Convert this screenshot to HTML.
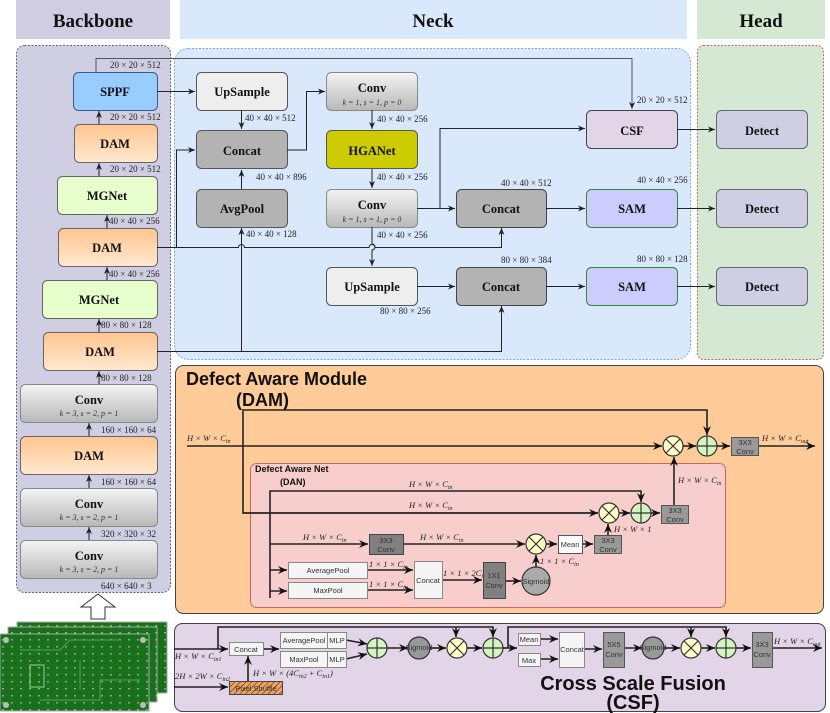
<!DOCTYPE html>
<html><head><meta charset="utf-8"><style>
html,body{margin:0;padding:0;background:#fff;}
svg{display:block;}
.b{font-family:"Liberation Serif",serif;font-weight:bold;font-size:12.5px;text-anchor:middle;fill:#111;}
.s{font-family:"Liberation Serif",serif;font-style:italic;font-size:8px;text-anchor:middle;fill:#333;}
.l{font-family:"Liberation Serif",serif;font-size:9px;fill:#222;}
.li{font-family:"Liberation Serif",serif;font-style:italic;font-size:8.5px;fill:#222;}
.h{font-family:"Liberation Serif",serif;font-weight:bold;font-size:19px;text-anchor:middle;fill:#111;}
.a{font-family:"Liberation Sans",sans-serif;font-size:7.5px;text-anchor:middle;fill:#333;}
.t{font-family:"Liberation Sans",sans-serif;font-weight:bold;fill:#111;}
line,polyline,path.w{stroke:#222;stroke-width:1;fill:none;}
.k line,.k polyline{stroke-width:1.6;}
</style></head><body>
<svg width="830" height="713" viewBox="0 0 830 713" xmlns="http://www.w3.org/2000/svg">
<defs>
<marker id="ar" markerWidth="8" markerHeight="8" refX="7" refY="4" orient="auto" markerUnits="userSpaceOnUse"><path d="M0,1 L7,4 L0,7 L2,4 z" fill="#222"/></marker>
<marker id="ab" markerWidth="10" markerHeight="10" refX="9" refY="5" orient="auto" markerUnits="userSpaceOnUse"><path d="M0,1 L9,5 L0,9 L3,5 z" fill="#111"/></marker>
<linearGradient id="og" x1="0" y1="0" x2="0" y2="1"><stop offset="0" stop-color="#ffc58f"/><stop offset="1" stop-color="#ffe8d0"/></linearGradient>
<linearGradient id="gg" x1="0" y1="0" x2="0" y2="1"><stop offset="0" stop-color="#f4f4f4"/><stop offset="1" stop-color="#b8b8b8"/></linearGradient>
<pattern id="hatch" width="4" height="4" patternUnits="userSpaceOnUse" patternTransform="rotate(45)"><rect width="4" height="4" fill="#f0a060"/><line x1="0" y1="0" x2="0" y2="4" stroke="#c8642a" stroke-width="1.5"/></pattern>
<pattern id="pcb" width="9" height="7" patternUnits="userSpaceOnUse"><rect width="9" height="7" fill="#1a701c"/><rect x="2" y="2" width="2" height="1.5" fill="#7fb07f"/><rect x="6" y="5" width="1" height="1" fill="#0e5a12"/></pattern>
</defs>

<!-- headers -->
<rect x="16" y="0" width="154" height="39" fill="#d0cde3"/>
<text class="h" x="93" y="27">Backbone</text>
<rect x="180" y="0" width="507" height="39" fill="#dae8fc"/>
<text class="h" x="433" y="27">Neck</text>
<rect x="697" y="0" width="128" height="39" fill="#d5e8d4"/>
<text class="h" x="761" y="27">Head</text>

<!-- panels -->
<rect x="16.5" y="45.5" width="154" height="547" rx="8" fill="#d0cee2" stroke="#666" stroke-dasharray="2,1.5"/>
<rect x="174.5" y="48.5" width="516" height="311" rx="14" fill="#dae8fc" stroke="#7ea6e0" stroke-dasharray="2,1.5"/>
<rect x="697.5" y="45.5" width="126" height="314" rx="6" fill="#d5e8d4" stroke="#c66" stroke-dasharray="2,1.5"/>

<!-- backbone boxes -->
<rect x="73.5" y="72.5" width="84" height="38" rx="5" fill="#99ccff" stroke="#3a5a8a"/><text class="b" x="115" y="96">SPPF</text>
<rect x="74.5" y="124.5" width="83" height="38" rx="5" fill="url(#og)" stroke="#666"/><text class="b" x="115" y="148">DAM</text>
<rect x="57.5" y="176.5" width="100" height="38" rx="5" fill="#e6ffcc" stroke="#666"/><text class="b" x="107" y="200">MGNet</text>
<rect x="58.5" y="228.5" width="99" height="38" rx="5" fill="url(#og)" stroke="#666"/><text class="b" x="107" y="252">DAM</text>
<rect x="42.5" y="280.5" width="115" height="38" rx="5" fill="#e6ffcc" stroke="#666"/><text class="b" x="99" y="304">MGNet</text>
<rect x="43.5" y="332.5" width="114" height="38" rx="5" fill="url(#og)" stroke="#666"/><text class="b" x="100" y="356">DAM</text>
<rect x="20.5" y="384.5" width="137" height="38" rx="5" fill="url(#gg)" stroke="#888"/><text class="b" x="89" y="404">Conv</text><text class="s" x="89" y="416">k = 3, s = 2, p = 1</text>
<rect x="20.5" y="436.5" width="137" height="38" rx="5" fill="url(#og)" stroke="#666"/><text class="b" x="89" y="460">DAM</text>
<rect x="20.5" y="488.5" width="137" height="38" rx="5" fill="url(#gg)" stroke="#888"/><text class="b" x="89" y="508">Conv</text><text class="s" x="89" y="520">k = 3, s = 2, p = 1</text>
<rect x="20.5" y="540.5" width="137" height="38" rx="5" fill="url(#gg)" stroke="#888"/><text class="b" x="89" y="560">Conv</text><text class="s" x="89" y="572">k = 3, s = 2, p = 1</text>

<!-- backbone arrows -->
<line x1="99" y1="124" x2="99" y2="111" marker-end="url(#ar)"/>
<line x1="99" y1="176" x2="99" y2="163" marker-end="url(#ar)"/>
<line x1="107" y1="228" x2="107" y2="215" marker-end="url(#ar)"/>
<line x1="107" y1="280" x2="107" y2="267" marker-end="url(#ar)"/>
<line x1="99" y1="332" x2="99" y2="319" marker-end="url(#ar)"/>
<line x1="99" y1="384" x2="99" y2="371" marker-end="url(#ar)"/>
<line x1="89" y1="436" x2="89" y2="423" marker-end="url(#ar)"/>
<line x1="89" y1="488" x2="89" y2="475" marker-end="url(#ar)"/>
<line x1="89" y1="540" x2="89" y2="527" marker-end="url(#ar)"/>
<g class="l">
<text x="110" y="68">20 × 20 × 512</text>
<text x="110" y="120">20 × 20 × 512</text>
<text x="110" y="172">20 × 20 × 512</text>
<text x="109" y="224">40 × 40 × 256</text>
<text x="109" y="277">40 × 40 × 256</text>
<text x="101" y="328">80 × 80 × 128</text>
<text x="101" y="381">80 × 80 × 128</text>
<text x="101" y="433">160 × 160 × 64</text>
<text x="101" y="485">160 × 160 × 64</text>
<text x="101" y="537">320 × 320 × 32</text>
<text x="101" y="589">640 × 640 × 3</text>
</g>
<!-- hollow arrow -->
<path d="M98,594 L115,607 L105,607 L105,619 L91,619 L91,607 L81,607 Z" fill="#fff" stroke="#333"/>
<!-- PCB -->
<rect x="17" y="622" width="150" height="71" fill="url(#pcb)" stroke="#aaa"/>
<rect x="8" y="627" width="149" height="75" fill="url(#pcb)" stroke="#aaa"/>
<rect x="0" y="634" width="149" height="77" fill="url(#pcb)" stroke="#aaa"/>
<path d="M20,650 H60 L70,640 H120 M40,700 H100 V680 H140 M80,660 V690" stroke="#5aa05a" fill="none"/>
<rect x="30" y="665" width="14" height="22" fill="none" stroke="#9c9"/>
<circle cx="6" cy="640" r="3" fill="#bbb"/><circle cx="143" cy="705" r="3" fill="#bbb"/><circle cx="143" cy="640" r="3" fill="#bbb"/><circle cx="6" cy="705" r="3" fill="#bbb"/>

<!-- neck boxes -->
<rect x="196.5" y="72.5" width="91" height="38" rx="5" fill="#eeeeee" stroke="#555"/><text class="b" x="242" y="96">UpSample</text>
<rect x="196.5" y="130.5" width="91" height="38" rx="5" fill="#b3b3b3" stroke="#555"/><text class="b" x="242" y="155">Concat</text>
<rect x="196.5" y="189.5" width="91" height="38" rx="5" fill="#b3b3b3" stroke="#555"/><text class="b" x="242" y="213">AvgPool</text>
<rect x="326.5" y="72.5" width="91" height="38" rx="5" fill="url(#gg)" stroke="#888"/><text class="b" x="372" y="92">Conv</text><text class="s" x="372" y="105">k = 1, s = 1, p = 0</text>
<rect x="326.5" y="130.5" width="91" height="38" rx="5" fill="#cccc00" stroke="#555"/><text class="b" x="372" y="155">HGANet</text>
<rect x="326.5" y="189.5" width="91" height="38" rx="5" fill="url(#gg)" stroke="#888"/><text class="b" x="372" y="209">Conv</text><text class="s" x="372" y="222">k = 1, s = 1, p = 0</text>
<rect x="326.5" y="267.5" width="91" height="38" rx="5" fill="#eeeeee" stroke="#555"/><text class="b" x="372" y="291">UpSample</text>
<rect x="456.5" y="189.5" width="90" height="38" rx="5" fill="#b3b3b3" stroke="#444"/><text class="b" x="501" y="213">Concat</text>
<rect x="456.5" y="267.5" width="90" height="38" rx="5" fill="#b3b3b3" stroke="#444"/><text class="b" x="501" y="291">Concat</text>
<rect x="586.5" y="110.5" width="91" height="38" rx="5" fill="#e1d5e7" stroke="#444"/><text class="b" x="632" y="135">CSF</text>
<rect x="586.5" y="189.5" width="91" height="38" rx="5" fill="#ccccff" stroke="#2d8a2d"/><text class="b" x="632" y="213">SAM</text>
<rect x="586.5" y="267.5" width="91" height="38" rx="5" fill="#ccccff" stroke="#2d8a2d"/><text class="b" x="632" y="291">SAM</text>
<rect x="716.5" y="110.5" width="91" height="38" rx="5" fill="#d0cee2" stroke="#667"/><text class="b" x="762" y="135">Detect</text>
<rect x="716.5" y="189.5" width="91" height="38" rx="5" fill="#d0cee2" stroke="#667"/><text class="b" x="762" y="213">Detect</text>
<rect x="716.5" y="267.5" width="91" height="38" rx="5" fill="#d0cee2" stroke="#667"/><text class="b" x="762" y="291">Detect</text>

<!-- neck connectors -->
<polyline points="96,72 96,58.5 632,58.5 632,109" marker-end="url(#ar)" style="stroke:#555"/>
<line x1="157" y1="91.5" x2="195" y2="91.5" marker-end="url(#ar)"/>
<line x1="241.5" y1="110" x2="241.5" y2="129" marker-end="url(#ar)"/>
<line x1="241.5" y1="189" x2="241.5" y2="170" marker-end="url(#ar)"/>
<polyline points="287,150 306.5,150 306.5,91.5 325,91.5" marker-end="url(#ar)"/>
<line x1="372" y1="110" x2="372" y2="129" marker-end="url(#ar)"/>
<line x1="372" y1="169" x2="372" y2="188" marker-end="url(#ar)"/>
<path class="w" d="M372,227 V244 a3,3 0 0 1 0,6 V266" marker-end="url(#ar)"/>
<line x1="417" y1="208.5" x2="455" y2="208.5" marker-end="url(#ar)"/>
<polyline points="440,208.5 440,128.5 585,128.5" marker-end="url(#ar)"/>
<line x1="546" y1="208.5" x2="585" y2="208.5" marker-end="url(#ar)"/>
<line x1="677" y1="208.5" x2="715" y2="208.5" marker-end="url(#ar)"/>
<line x1="677" y1="129.5" x2="715" y2="129.5" marker-end="url(#ar)"/>
<line x1="417" y1="286.5" x2="455" y2="286.5" marker-end="url(#ar)"/>
<line x1="546" y1="286.5" x2="585" y2="286.5" marker-end="url(#ar)"/>
<line x1="677" y1="286.5" x2="715" y2="286.5" marker-end="url(#ar)"/>
<path class="w" d="M157,247.5 H238.5 a3,3 0 0 1 6,0 H369 a3,3 0 0 1 6,0 H501.5 V228" marker-end="url(#ar)"/>
<polyline points="176.5,247.5 176.5,150 195,150" marker-end="url(#ar)"/>
<polyline points="157,351.5 501.5,351.5 501.5,306" marker-end="url(#ar)"/>
<line x1="241.5" y1="351.5" x2="241.5" y2="228" marker-end="url(#ar)"/>
<g class="l">
<text x="245" y="121">40 × 40 × 512</text>
<text x="256" y="180">40 × 40 × 896</text>
<text x="246" y="237">40 × 40 × 128</text>
<text x="377" y="122">40 × 40 × 256</text>
<text x="377" y="180">40 × 40 × 256</text>
<text x="377" y="238">40 × 40 × 256</text>
<text x="380" y="314">80 × 80 × 256</text>
<text x="501" y="186">40 × 40 × 512</text>
<text x="501" y="263">80 × 80 × 384</text>
<text x="637" y="103">20 × 20 × 512</text>
<text x="637" y="183">40 × 40 × 256</text>
<text x="637" y="262">80 × 80 × 128</text>
</g>

<!-- DAM panel -->
<rect x="175.5" y="365.5" width="648" height="248" rx="8" fill="#ffcc99" stroke="#444"/>
<text class="t" x="186" y="385" font-size="18">Defect Aware Module</text>
<text class="t" x="236" y="406" font-size="18">(DAM)</text>
<rect x="250.5" y="463.5" width="475" height="144" rx="6" fill="#f8cecc" stroke="#c66"/>
<text class="t" x="255" y="472" font-size="9">Defect Aware Net</text>
<text class="t" x="280" y="485" font-size="9">(DAN)</text>
<g class="k">
<line x1="187" y1="446" x2="662" y2="446" marker-end="url(#ab)"/>
<line x1="683" y1="446" x2="696" y2="446" marker-end="url(#ab)"/>
<line x1="717" y1="446" x2="730" y2="446" marker-end="url(#ab)"/>
<line x1="758" y1="446" x2="815" y2="446" marker-end="url(#ab)"/>
<polyline points="598,513 243,513 243,410 707,410 707,435" marker-end="url(#ab)"/>
<line x1="243" y1="513" x2="598" y2="513" marker-end="url(#ab)"/>
<polyline points="270,598 270,491 641,491 641,502" marker-end="url(#ab)"/>
<line x1="619" y1="513" x2="630" y2="513" marker-end="url(#ab)"/>
<line x1="651" y1="513" x2="660" y2="513" marker-end="url(#ab)"/>
<line x1="674" y1="505" x2="674" y2="457" marker-end="url(#ab)"/>
<line x1="270" y1="544" x2="368" y2="544" marker-end="url(#ab)"/>
<line x1="403" y1="544" x2="525" y2="544" marker-end="url(#ab)"/>
<line x1="546" y1="544" x2="557" y2="544" marker-end="url(#ab)"/>
<line x1="582" y1="544" x2="593" y2="544" marker-end="url(#ab)"/>
<line x1="608" y1="535" x2="608" y2="524" marker-end="url(#ab)"/>
<line x1="270" y1="570" x2="287" y2="570" marker-end="url(#ab)"/>
<line x1="270" y1="591" x2="287" y2="591" marker-end="url(#ab)"/>
<line x1="367" y1="570" x2="413" y2="570" marker-end="url(#ab)"/>
<line x1="367" y1="590" x2="413" y2="590" marker-end="url(#ab)"/>
<line x1="442" y1="580" x2="482" y2="580" marker-end="url(#ab)"/>
<line x1="505" y1="581" x2="521" y2="581" marker-end="url(#ab)"/>
<line x1="536" y1="567" x2="536" y2="555" marker-end="url(#ab)"/>
</g>
<g class="li">
<text x="187" y="441">H × W × C<tspan font-size="6" dy="2">in</tspan></text>
<text x="762" y="441">H × W × C<tspan font-size="6" dy="2">out</tspan></text>
<text x="409" y="487">H × W × C<tspan font-size="6" dy="2">in</tspan></text>
<text x="409" y="508">H × W × C<tspan font-size="6" dy="2">in</tspan></text>
<text x="678" y="483">H × W × C<tspan font-size="6" dy="2">in</tspan></text>
<text x="303" y="540">H × W × C<tspan font-size="6" dy="2">in</tspan></text>
<text x="420" y="540">H × W × C<tspan font-size="6" dy="2">in</tspan></text>
<text x="614" y="532">H × W × 1</text>
<text x="540" y="564">1 × 1 × C<tspan font-size="6" dy="2">in</tspan></text>
<text x="369" y="567">1 × 1 × C<tspan font-size="6" dy="2">in</tspan></text>
<text x="369" y="587">1 × 1 × C<tspan font-size="6" dy="2">in</tspan></text>
<text x="443" y="576">1 × 1 × 2C<tspan font-size="6" dy="2">in</tspan></text>
</g>
<!-- DAM circles & boxes -->
<g stroke="#333" stroke-width="1.2">
<circle cx="673" cy="446" r="10" fill="#ffffcc"/><path d="M666,439 L680,453 M680,439 L666,453"/>
<circle cx="707" cy="446" r="10" fill="#d5f5c0"/><path d="M697,446 H717 M707,436 V456"/>
<circle cx="609" cy="513" r="10" fill="#ffffcc"/><path d="M602,506 L616,520 M616,506 L602,520"/>
<circle cx="641" cy="513" r="10" fill="#d5f5c0"/><path d="M631,513 H651 M641,503 V523"/>
<circle cx="536" cy="544" r="10" fill="#ffffcc"/><path d="M529,537 L543,551 M543,537 L529,551"/>
<circle cx="536" cy="581" r="14" fill="#aaa"/>
</g>
<rect x="731.5" y="437.5" width="27" height="18" fill="#999" stroke="#555"/><text class="a" x="745" y="445">3X3</text><text class="a" x="745" y="454">Conv</text>
<rect x="661.5" y="505.5" width="27" height="18" fill="#999" stroke="#555"/><text class="a" x="675" y="513">3X3</text><text class="a" x="675" y="522">Conv</text>
<rect x="369.5" y="534.5" width="34" height="20" fill="#808080" stroke="#444"/><text class="a" x="386" y="543">3X3</text><text class="a" x="386" y="552">Conv</text>
<rect x="558.5" y="535.5" width="24" height="18" fill="#fff" stroke="#555"/><text class="a" x="570" y="547">Mean</text>
<rect x="594.5" y="535.5" width="27" height="18" fill="#999" stroke="#555"/><text class="a" x="608" y="543">3X3</text><text class="a" x="608" y="552">Conv</text>
<rect x="288.5" y="562.5" width="79" height="16" fill="#f5f5f5" stroke="#888"/><text class="a" x="328" y="573">AveragePool</text>
<rect x="288.5" y="582.5" width="79" height="16" fill="#f5f5f5" stroke="#888"/><text class="a" x="328" y="593">MaxPool</text>
<rect x="414.5" y="561.5" width="28" height="37" fill="#f5f5f5" stroke="#888"/><text class="a" x="428" y="583">Concat</text>
<rect x="483.5" y="562.5" width="22" height="36" fill="#808080" stroke="#444"/><text class="a" x="494" y="578">1X1</text><text class="a" x="494" y="588">Conv</text>
<text class="a" x="536" y="584" font-size="6.5">Sigmoid</text>

<!-- CSF panel -->
<rect x="174.5" y="623.5" width="651" height="88" rx="8" fill="#e1d5e7" stroke="#444"/>
<g class="k">
<line x1="174" y1="649" x2="228" y2="649" marker-end="url(#ab)"/>
<polyline points="218,649 218,627 493,627 493,637" marker-end="url(#ab)"/>
<line x1="456" y1="627" x2="456" y2="637" marker-end="url(#ab)"/>
<line x1="174" y1="687" x2="228" y2="687" marker-end="url(#ab)"/>
<line x1="248" y1="681" x2="248" y2="656" marker-end="url(#ab)"/>
<line x1="263" y1="649" x2="279" y2="649" marker-end="url(#ab)"/>
<line x1="346" y1="640" x2="367" y2="644" marker-end="url(#ab)"/>
<line x1="346" y1="659" x2="367" y2="654" marker-end="url(#ab)"/>
<line x1="387" y1="648" x2="408" y2="648" marker-end="url(#ab)"/>
<line x1="430" y1="648" x2="446" y2="648" marker-end="url(#ab)"/>
<line x1="467" y1="648" x2="482" y2="648" marker-end="url(#ab)"/>
<line x1="503" y1="648" x2="517" y2="648" marker-end="url(#ab)"/>
<polyline points="508,648 508,627 726,627 726,637" marker-end="url(#ab)"/>
<line x1="691" y1="627" x2="691" y2="637" marker-end="url(#ab)"/>
<line x1="540" y1="639" x2="558" y2="639" marker-end="url(#ab)"/>
<line x1="540" y1="659" x2="558" y2="659" marker-end="url(#ab)"/>
<line x1="584" y1="649" x2="602" y2="649" marker-end="url(#ab)"/>
<line x1="624" y1="648" x2="642" y2="648" marker-end="url(#ab)"/>
<line x1="664" y1="648" x2="680" y2="648" marker-end="url(#ab)"/>
<line x1="701" y1="648" x2="715" y2="648" marker-end="url(#ab)"/>
<line x1="736" y1="648" x2="751" y2="648" marker-end="url(#ab)"/>
<line x1="772" y1="648" x2="822" y2="648" marker-end="url(#ab)"/>
</g>
<rect x="229.5" y="642.5" width="34" height="13" fill="#f5f5f5" stroke="#888"/><text class="a" x="246" y="652" font-size="8">Concat</text>
<rect x="229.5" y="681.5" width="53" height="13" fill="url(#hatch)" stroke="#444"/><text class="a" x="256" y="691" font-size="8">Pixel Shuffle</text>
<rect x="280.5" y="632.5" width="47" height="16" fill="#f5f5f5" stroke="#888"/><text class="a" x="304" y="643" font-size="8">AveragePool</text>
<rect x="327.5" y="632.5" width="19" height="16" fill="#f5f5f5" stroke="#888"/><text class="a" x="337" y="643" font-size="8">MLP</text>
<rect x="280.5" y="651.5" width="47" height="16" fill="#f5f5f5" stroke="#888"/><text class="a" x="304" y="662" font-size="8">MaxPool</text>
<rect x="327.5" y="651.5" width="19" height="16" fill="#f5f5f5" stroke="#888"/><text class="a" x="337" y="662" font-size="8">MLP</text>
<rect x="518.5" y="633.5" width="22" height="12" fill="#f5f5f5" stroke="#888"/><text class="a" x="529" y="642">Mean</text>
<rect x="518.5" y="653.5" width="22" height="13" fill="#f5f5f5" stroke="#888"/><text class="a" x="529" y="663">Max</text>
<rect x="559.5" y="632.5" width="25" height="35" fill="#f5f5f5" stroke="#888"/><text class="a" x="572" y="652">Concat</text>
<rect x="603.5" y="632.5" width="21" height="35" fill="#999" stroke="#555"/><text class="a" x="614" y="647" font-size="8">5X5</text><text class="a" x="614" y="657" font-size="8">Conv</text>
<rect x="752.5" y="632.5" width="20" height="35" fill="#999" stroke="#555"/><text class="a" x="762" y="647" font-size="8">3X3</text><text class="a" x="762" y="657" font-size="8">Conv</text>
<g stroke="#333" stroke-width="1.2">
<circle cx="377" cy="648" r="10" fill="#d5f5c0"/><path d="M367,648 H387 M377,638 V658"/>
<circle cx="419" cy="648" r="11" fill="#999"/>
<circle cx="457" cy="648" r="10" fill="#ffffcc"/><path d="M450,641 L464,655 M464,641 L450,655"/>
<circle cx="493" cy="648" r="10" fill="#d5f5c0"/><path d="M483,648 H503 M493,638 V658"/>
<circle cx="653" cy="648" r="11" fill="#999"/>
<circle cx="691" cy="648" r="10" fill="#ffffcc"/><path d="M684,641 L698,655 M698,641 L684,655"/>
<circle cx="726" cy="648" r="10" fill="#d5f5c0"/><path d="M716,648 H736 M726,638 V658"/>
</g>
<text class="a" x="419" y="650" font-size="5.5">Sigmoid</text>
<text class="a" x="653" y="650" font-size="5.5">Sigmoid</text>
<g class="li">
<text x="175" y="659">H × W × C<tspan font-size="6" dy="2">in1</tspan></text>
<text x="175" y="679">2H × 2W × C<tspan font-size="6" dy="2">in2</tspan></text>
<text x="253" y="676">H × W × (4C<tspan font-size="6" dy="2">in2</tspan><tspan dy="-2"> + C</tspan><tspan font-size="6" dy="2">in1</tspan><tspan dy="-2">)</tspan></text>
<text x="774" y="644">H × W × C<tspan font-size="6" dy="2">out</tspan></text>
</g>
<text class="t" x="633" y="690" font-size="20" text-anchor="middle">Cross Scale Fusion</text>
<text class="t" x="633" y="709" font-size="20" text-anchor="middle">(CSF)</text>
</svg>
</body></html>
